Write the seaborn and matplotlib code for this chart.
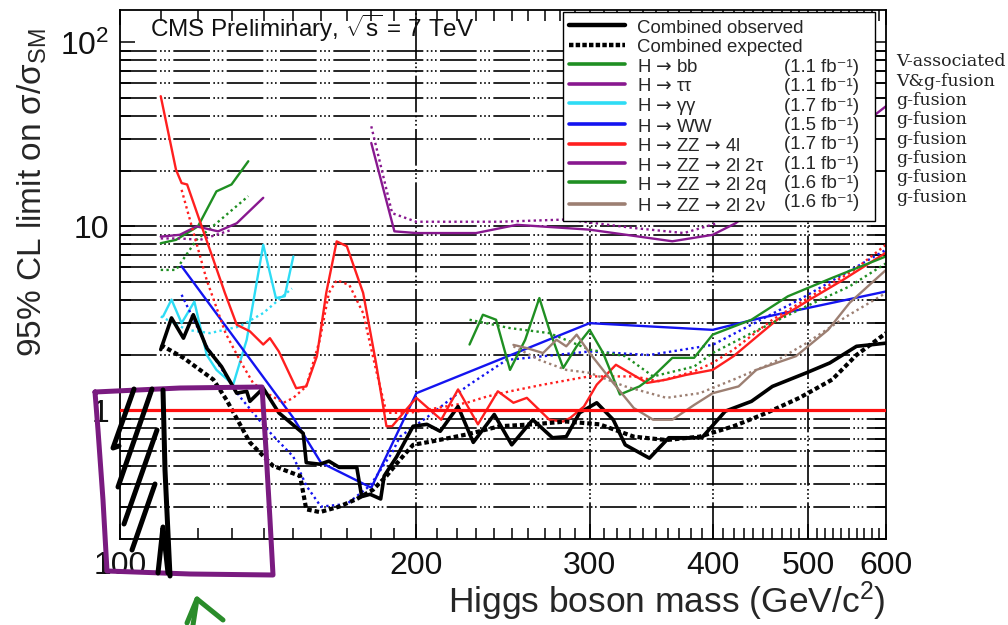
import matplotlib
matplotlib.use('Agg')
import matplotlib.pyplot as plt
import seaborn as sns
from matplotlib.lines import Line2D
from matplotlib.ticker import FixedLocator, FuncFormatter, NullFormatter

sns.set_theme(style='ticks')
plt.rcParams['font.family'] = ['Liberation Sans', 'DejaVu Sans']
plt.rcParams['mathtext.fontset'] = 'custom'
plt.rcParams['mathtext.rm'] = 'Liberation Sans'
plt.rcParams['mathtext.it'] = 'Liberation Sans:italic'
plt.rcParams['mathtext.bf'] = 'Liberation Sans:bold'
plt.rcParams['mathtext.sf'] = 'DejaVu Sans'

# ---- data (mass in GeV, limit on sigma/sigma_SM) ----
comb_obs_m = [110, 112.8, 116, 118.7, 122.5, 126.8, 131.4, 134.5, 135.5, 139.8, 145, 153.5,
              154.6, 159.6, 163, 167, 174, 176, 179.5, 184, 185.5, 191, 198.5, 205, 211.5,
              220.5, 228.5, 240, 250, 262.6, 275, 284, 293, 305, 317, 326, 345, 361, 390,
              412, 438, 460, 498, 526, 560, 600]
comb_obs = [2.14, 3.18, 2.47, 3.31, 2.18, 1.73, 1.24, 1.27, 1.12, 1.32, 0.97, 0.75,
            0.52, 0.51, 0.53, 0.49, 0.49, 0.34, 0.35, 0.33, 0.44, 0.56, 0.82, 0.84, 0.77,
            1.05, 0.67, 0.95, 0.65, 0.89, 0.71, 0.72, 0.97, 1.10, 0.89, 0.65, 0.55, 0.71, 0.71,
            0.99, 1.12, 1.35, 1.60, 1.81, 2.23, 2.32]
comb_exp_m = [110, 116, 124.4, 128.3, 135.5, 143, 152.4, 154.6, 159.6, 167, 174, 180.7,
              186.5, 192.5, 198.5, 208, 225, 243, 262.6, 284, 307, 332.6, 359, 388, 420,
              454, 490, 529, 560, 600]
comb_exp = [2.27, 1.93, 1.47, 1.14, 0.67, 0.50, 0.44, 0.29, 0.28, 0.30, 0.33, 0.37,
            0.44, 0.54, 0.65, 0.68, 0.74, 0.82, 0.84, 0.87, 0.84, 0.72, 0.69, 0.72, 0.82,
            0.97, 1.17, 1.47, 2.00, 2.63]

bb_obs_m = [110, 114, 120, 125.3, 129.8, 135]
bb_obs = [8.1, 8.45, 10.0, 15.5, 16.9, 22.6]
bb_exp_m = [110, 114, 119.6, 125.3, 135]
bb_exp = [5.8, 5.8, 8.45, 10.4, 14.6]

tautau_obs_m = [110, 115, 119.6, 125.8, 131.4, 139.8]
tautau_obs = [8.8, 9.0, 10.0, 9.4, 10.4, 14.3]
tautau_exp_m = [110, 115, 120.6, 125.3, 130]
tautau_exp = [8.6, 8.6, 8.45, 9.0, 9.6]

gg_obs_m = [110.6, 112.8, 115.5, 119, 122.5, 125.3, 130.3, 134.5, 139.8, 144, 147, 150]
gg_obs = [3.24, 4.0, 2.98, 3.9, 2.0, 1.66, 1.38, 2.42, 7.95, 4.08, 4.17, 6.87]
gg_exp_m = [110, 117, 123.4, 132.3, 139.8, 149.5]
gg_exp = [3.24, 2.74, 2.63, 2.86, 3.38, 4.6]

ww_obs_m = [115.5, 150, 160, 180, 200, 300, 400, 450, 600]
ww_obs = [6.07, 0.91, 0.52, 0.38, 1.24, 2.98, 2.74, 3.2, 4.43]
ww_exp_m = [115.5, 122.5, 132.3, 141, 150, 154.6, 160, 170, 179.5, 189, 192.5, 208, 225,
            247, 300, 345, 400, 490, 600]
ww_exp = [4.25, 2.23, 1.19, 0.79, 0.56, 0.39, 0.30, 0.31, 0.39, 0.59, 0.72, 0.97, 1.35,
          1.88, 2.09, 2.0, 2.27, 4.0, 7.46]

zz4l_obs_m = [110, 114, 115.5, 117, 120.6, 124.4, 127.8, 131.4, 135.5, 139.8, 142, 145,
              151, 154.6, 158.5, 162, 166, 170, 176.6, 182, 186.5, 189, 195, 200, 212,
              220.5, 231, 242, 251, 259, 273, 282, 286.6, 296, 305, 319, 343, 359, 376,
              400, 420, 465, 502, 542, 600]
zz4l_obs = [51, 20.3, 17.2, 16.9, 10.6, 6.6, 4.35, 2.92, 2.69, 2.28, 2.47, 2.09,
            1.32, 1.35, 1.97, 4.35, 8.29, 7.8, 4.35, 1.81, 0.82, 0.82, 1.0, 1.17, 0.89,
            1.3, 0.84, 1.27, 1.1, 1.17, 0.89, 0.87, 0.91, 1.05, 1.38, 1.77, 1.41, 1.47, 1.56,
            1.66, 1.97, 3.11, 4.0, 5.1, 7.2]
zz4l_exp_m = [115.5, 122.5, 128, 132.3, 136.5, 141, 146.6, 150, 154.6, 159.6, 163, 166,
              171, 176.6, 182, 186.5, 191, 197, 209.7, 225, 236, 249, 269, 293, 300, 332.6,
              353, 383, 400, 420, 460, 510, 557, 600]
zz4l_exp = [15.8, 5.1, 2.63, 1.88, 1.41, 1.24, 1.1, 1.17, 1.35, 2.42, 4.35, 5.1,
            4.8, 3.38, 1.66, 0.97, 0.97, 0.97, 1.03, 1.1, 1.19, 1.27, 1.38, 1.5, 1.53, 1.53,
            1.44, 1.63, 1.81, 2.14, 3.11, 4.35, 5.8, 7.95]

zz2l2t_obs_m = [180, 190, 200, 230, 253, 300, 364, 400, 422, 600]
zz2l2t_obs = [28.4, 9.4, 9.2, 9.2, 10.2, 9.6, 8.3, 9.0, 10.4, 45]
zz2l2t_exp_m = [180, 189, 200, 243, 284, 332.6, 374, 404]
zz2l2t_exp = [35, 11.8, 10.6, 10.6, 10.9, 9.8, 9.2, 10.4]

zz2l2q_obs_m = [226.5, 233.7, 241, 249, 258, 266.7, 273, 282, 291, 300, 309.6, 322, 337,
                348, 364, 383, 400, 438, 477, 529, 600]
zz2l2q_obs = [2.28, 3.31, 3.11, 1.66, 2.42, 4.08, 2.74, 1.7, 2.23, 2.74, 2.05, 1.22, 1.35,
              1.53, 1.93, 1.93, 2.58, 3.11, 4.17, 5.25, 6.87]
zz2l2q_exp_m = [226.5, 249, 273, 300, 326, 348, 383, 400, 438, 498, 551, 600]
zz2l2q_exp = [3.11, 2.8, 2.63, 2.14, 1.97, 1.53, 1.73, 2.05, 2.63, 3.68, 4.72, 6.3]

zz2l2n_obs_m = [251, 259, 269, 277.6, 284, 291, 300, 317, 332.6, 348, 364, 383, 400, 425,
                443, 486, 524, 551, 600]
zz2l2n_obs = [2.27, 2.18, 2.05, 2.42, 2.23, 2.58, 2.05, 1.41, 1.03, 0.89, 0.89, 1.07, 1.24,
              1.35, 1.66, 1.97, 2.74, 3.84, 5.8]
zz2l2n_exp_m = [251, 266.7, 284, 300, 326, 359, 388, 420, 460, 498, 547, 600]
zz2l2n_exp = [2.23, 1.88, 1.66, 1.6, 1.35, 1.17, 1.24, 1.47, 1.81, 2.32, 3.24, 4.35]

ARROW = '$\\mathsf{\u2192}$'
channel_labels = ['H %s bb' % ARROW, 'H %s ττ' % ARROW, 'H %s γγ' % ARROW,
                  'H %s WW' % ARROW, 'H %s ZZ %s 4l' % (ARROW, ARROW),
                  'H %s ZZ %s 2l 2τ' % (ARROW, ARROW), 'H %s ZZ %s 2l 2q' % (ARROW, ARROW),
                  'H %s ZZ %s 2l 2ν' % (ARROW, ARROW)]
channel_lumi = ['(1.1 fb⁻¹)', '(1.1 fb⁻¹)', '(1.7 fb⁻¹)', '(1.5 fb⁻¹)', '(1.7 fb⁻¹)',
                '(1.1 fb⁻¹)', '(1.6 fb⁻¹)', '(1.6 fb⁻¹)']
channel_colors = ['#1f8f22', '#88188f', '#2edcf5', '#1414f0', '#ff1f1f',
                  '#88188f', '#1f8f22', '#9c7f72']
production = ['V-associated', 'V&g-fusion', 'g-fusion', 'g-fusion',
              'g-fusion', 'g-fusion', 'g-fusion', 'g-fusion']

channel_data = [
    (bb_obs_m, bb_obs, bb_exp_m, bb_exp),
    (tautau_obs_m, tautau_obs, tautau_exp_m, tautau_exp),
    (gg_obs_m, gg_obs, gg_exp_m, gg_exp),
    (ww_obs_m, ww_obs, ww_exp_m, ww_exp),
    (zz4l_obs_m, zz4l_obs, zz4l_exp_m, zz4l_exp),
    (zz2l2t_obs_m, zz2l2t_obs, zz2l2t_exp_m, zz2l2t_exp),
    (zz2l2q_obs_m, zz2l2q_obs, zz2l2q_exp_m, zz2l2q_exp),
    (zz2l2n_obs_m, zz2l2n_obs, zz2l2n_exp_m, zz2l2n_exp),
]

W, H = 1008, 625
fig = plt.figure(figsize=(W / 100, H / 100), dpi=100)
ax = fig.add_axes([120 / W, 86 / H, 766 / W, 529 / H])
ax.set(xscale='log', yscale='log', xlim=(100, 600), ylim=(0.2, 150))

grid_ls = (0, (22, 2, 1, 1.5, 1, 1.5, 1, 2))
ygrid = [k * 10.0 ** e for e in (-1, 0, 1) for k in range(2, 10) if k * 10.0 ** e > 0.2] + [10]
for yv in ygrid:
    ax.axhline(yv, color='black', lw=1.2, ls=grid_ls, zorder=0.5)
for xv in [200, 300, 400, 500]:
    ax.axvline(xv, color='black', lw=1.2, ls=grid_ls, zorder=0.5)

dot_ls = (0, (1.0, 1.4))


def draw(m, lim, color, lw, ls, z=2):
    sns.lineplot(x=m, y=lim, ax=ax, color=color, lw=lw, linestyle=ls,
                 errorbar=None, estimator=None, sort=False, zorder=z)


for (om, ol, em, el), col in zip(channel_data, channel_colors):
    draw(em, el, col, 1.7, dot_ls)
    draw(om, ol, col, 1.7, '-')

draw(comb_exp_m, comb_exp, 'black', 3.0, (0, (1.1, 0.7)), z=3)
draw(comb_obs_m, comb_obs, 'black', 2.6, '-', z=3)
ax.axhline(1, color='#ff1010', lw=2.3, zorder=4)

# axes styling, ROOT-like
ax.xaxis.set_major_locator(FixedLocator([100, 200, 300, 400, 500, 600]))
ax.xaxis.set_minor_locator(FixedLocator(list(range(110, 600, 10))))
ax.xaxis.set_major_formatter(FuncFormatter(lambda v, p: '%d' % round(v)))
ax.xaxis.set_minor_formatter(NullFormatter())
ax.yaxis.set_major_locator(FixedLocator([1, 10, 100]))
ax.yaxis.set_major_formatter(FuncFormatter(
    lambda v, p: {1: '1', 10: '10', 100: '10$^{2}$'}.get(int(round(v)), '')))
ax.yaxis.set_minor_formatter(NullFormatter())
ax.tick_params(which='both', direction='in', top=True, right=True, width=1.1,
               color='black', labelsize=23, labelcolor='#111111')
ax.tick_params(which='major', length=11)
ax.tick_params(which='minor', length=8)
ax.tick_params(axis='x', pad=9)
ax.tick_params(axis='y', pad=8)
for s in ax.spines.values():
    s.set_color('black')
    s.set_linewidth(1.3)

ax.set_xlabel('Higgs boson mass (GeV/c$^{2}$)', fontsize=25.5, loc='right')
ax.xaxis.set_label_coords(1.0, -0.076)
ax.set_ylabel('95% CL limit on σ/σ$_{\\mathrm{SM}}$', fontsize=24, loc='top')
ax.yaxis.set_label_coords(-0.093, 0.966)

ax.text(0.039, 0.966, r'CMS Preliminary, $\sqrt{\mathrm{s}}$ = 7 TeV', transform=ax.transAxes,
        fontsize=17.5, va='center', ha='left', color='#111111')

# legend (tall handle boxes keep both columns on the same row grid)
handles = [Line2D([], [], color='black', lw=3.2),
           Line2D([], [], color='black', lw=3.2, ls=(0, (1.0, 0.5)))]
handles += [Line2D([], [], color=c, lw=2.6) for c in channel_colors]
labels = ['Combined observed', 'Combined expected'] + channel_labels
blank = [Line2D([], [], lw=0) for _ in range(10)]
lumis = ['', ''] + [s + '  ' for s in channel_lumi]
leg = ax.legend(handles + blank, labels + lumis, ncol=2, loc='upper right',
                bbox_to_anchor=(0.986, 0.996), fontsize=13.4, handlelength=3.0,
                handleheight=1.12, handletextpad=0.65, columnspacing=-4.68,
                labelspacing=0.0, borderpad=0.3, borderaxespad=0, frameon=True,
                fancybox=False, edgecolor='black', framealpha=1)
leg.get_frame().set_linewidth(1.0)
leg.set_zorder(6)

# production-mode notes to the right of the frame
for i, t in enumerate(production):
    fig.text(896 / W, 1 - (62 + 19.3 * i) / H, t, family='DejaVu Serif',
             fontsize=12.5, va='center', ha='left', color='#222222')

# hand-drawn marks on top of the picture (image pixel paths)
box_px = [(95, 392), (180, 388), (262, 387), (266, 450), (270, 520), (273, 575),
          (190, 574), (107, 571), (103, 500), (98, 430), (95, 392)]
hatch_px = [
    [(134, 389), (113, 448), (119, 446)],
    [(152, 389), (118, 487)],
    [(163, 390), (165, 470), (170, 576)],
    [(157, 430), (124, 524)],
    [(155, 484), (132, 550)],
    [(158, 573), (163, 527), (168, 573)],
]
arrow_px = [[(187, 623), (197, 599), (223, 620)], [(197, 599), (193, 625)]]


def px_line(pts, color, lw):
    xs = [p[0] / W for p in pts]
    ys = [1 - p[1] / H for p in pts]
    fig.add_artist(Line2D(xs, ys, transform=fig.transFigure, color=color, lw=lw,
                          solid_capstyle='round', solid_joinstyle='round', zorder=10))


px_line(box_px, '#7a1b80', 3.6)
for s in hatch_px:
    px_line(s, 'black', 3.6)
for s in arrow_px:
    px_line(s, '#2a8c2a', 3.6)

fig.savefig('out.png', dpi=100)
